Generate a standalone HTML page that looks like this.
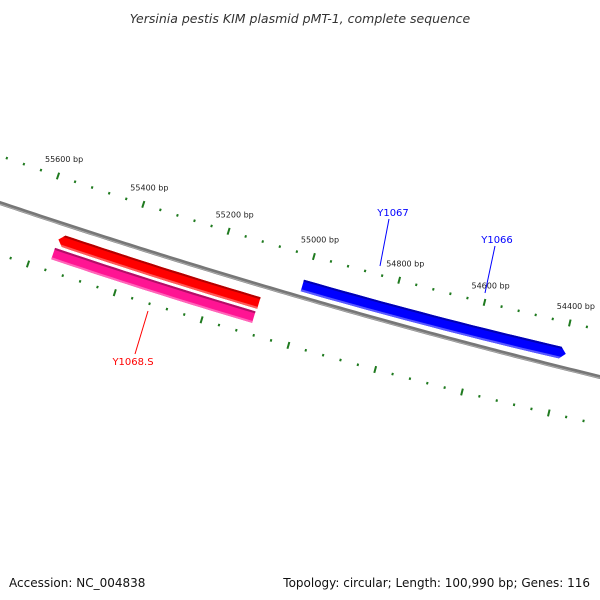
<!DOCTYPE html>
<html><head><meta charset="utf-8"><style>
html,body{margin:0;padding:0;background:#fff}
svg{display:block}
text{font-family:"DejaVu Sans","Liberation Sans",sans-serif}
</style></head><body>
<svg id="c" width="600" height="600" viewBox="0 0 600 600">
<text x="300" y="23" text-anchor="middle" font-size="12.5" font-style="italic" fill="#333">Yersinia pestis KIM plasmid pMT-1, complete sequence</text>
<text x="9" y="587" font-size="12" fill="#111">Accession: NC_004838</text>
<text x="590" y="587" text-anchor="end" font-size="12" fill="#111">Topology: circular; Length: 100,990 bp; Genes: 116</text>
<g id="g"></g>
</svg>
<script>
const upperTickRange = [55720, 54360];
const lowerTickRange = [55640, 54320];
const tickStep = 40;
const majorStep = 200;
const geneNames = ["Y1068", "Y1068.S", "Y1067"];
const geneStart = [55546, 55555, 55007];
const geneEnd = [55089, 55091, 54402];
const geneStrand = [-1, 0, 1];
const geneColors = ["#ff0000", "#ff1493", "#0000ff"];
const geneOffsets = [60, 75, 31];
const labelNames = ["Y1067", "Y1066", "Y1068.S"];
const labelBp = [54810, 54570, 55370];
const labelColors = ["#0000ff", "#0000ff", "#ff0000"];

const NS = "http://www.w3.org/2000/svg";
const g = document.getElementById('g');
function mk(t, a){const e=document.createElementNS(NS,t);for(const k in a)e.setAttribute(k,a[k]);g.appendChild(e);return e;}
// upper ruler curve
function xU(bp){return 58 + (55600-bp)/200*85.3;}
function yU(x){const d=x-312;return 256+0.2876*d-1.08e-4*d*d;}
function sU(x){return 0.2876-2*1.08e-4*(x-312);}
function pt(bp, off){const x=xU(bp),y=yU(x),s=sU(x),n=Math.sqrt(1+s*s);return [x-s/n*off, y+off/n, s];}
// lower ruler
function xL(bp){return 28 + (55600-bp)/200*86.8;}
function yL(x){const d=x-287;return 345+0.2863*d-1.02e-4*d*d;}
function sL(x){return 0.2863-2*1.02e-4*(x-287);}
function yB(x){const d=x-300;return 297+0.2933*d-0.244e-4*d*d*1.0- (d*d*0.0000)*0;}
// backbone through (0,203),(300,297),(600,377)
function yBack(x){const d=x-300; const b=(377-203)/600, c=((377+203)/2-297)/90000; return 297+b*d+c*d*d;}
let d="";
for(let x=-5;x<=605;x+=5){d+=(x<0?"M":"L")+x+","+yBack(x).toFixed(2)+" ";}
let bb=mk('path',{d:d,stroke:'#777',"stroke-width":4,fill:'none'});


let bh=mk('path',{d:d,stroke:'#aaa',"stroke-width":1,fill:'none',transform:'translate(0,1.2)'});



function tick(x,y,s,len,name){const n=Math.sqrt(1+s*s),ux=-s/n,uy=1/n;
 const l=mk('line',{x1:x-ux*len/2,y1:y-uy*len/2,x2:x+ux*len/2,y2:y+uy*len/2,stroke:'#1f7a1f',"stroke-width":2});
 
 }
for(let bp=upperTickRange[0];bp>=upperTickRange[1];bp-=tickStep){
 const x=xU(bp),y=yU(x),maj=bp%majorStep===0;
 tick(x,y,sU(x),maj?7:2.5,maj?'major-tick':'minor-tick');
 if(maj){const t=mk('text',{x:x-13,y:y-14,"font-size":8,fill:'#222'});t.textContent=bp+" bp";
  
  }
}
for(let bp=lowerTickRange[0];bp>=lowerTickRange[1];bp-=tickStep){
 const x=xL(bp),y=yL(x),maj=bp%majorStep===0;
 tick(x,y,sL(x),maj?7:2.5,maj?'inner-major-tick':'inner-minor-tick');
}
function shade(c,f){const v=parseInt(c.slice(1),16);let r=v>>16,gg=(v>>8)&255,b=v&255;
 const m=f>0?(q=>Math.round(q+(255-q)*f)):(q=>Math.round(q*(1+f)));return `rgb(${m(r)},${m(gg)},${m(b)})`;}
for(let i=0;i<geneNames.length;i++){
 const h=6,off=geneOffsets[i],a=geneStart[i],b=geneEnd[i],st=geneStrand[i];
 const top=[],bot=[],N=20;
 for(let k=0;k<=N;k++){const bp=a+(b-a)*k/N;top.push(pt(bp,off-h));bot.push(pt(bp,off+h));}
 let poly=[];
 if(st===-1){const tip=pt(a+8,off);top[0]=pt(a-4,off-h);bot[0]=pt(a-4,off+h);poly.push(tip);}
 top.forEach(p=>poly.push(p));
 if(st===1){const tip=pt(b-9,off);top[N]=pt(b+4,off-h);bot[N]=pt(b+4,off+h);poly=[];top.forEach(p=>poly.push(p));poly.push(tip);}
 for(let k=N;k>=0;k--)poly.push(bot[k]);
 const pg=mk('polygon',{points:poly.map(p=>p[0].toFixed(1)+","+p[1].toFixed(1)).join(" "),fill:geneColors[i]});
 
 
 // shading bands
 const dk=[],lt=[];
 for(let k=0;k<=N;k++){const bp=a+(b-a)*k/N;dk.push(pt(bp,off-h+2));lt.push(pt(bp,off+h-2));}
 const dband=mk('polygon',{points:top.concat(dk.slice().reverse()).map(p=>p[0].toFixed(1)+","+p[1].toFixed(1)).join(" "),fill:shade(geneColors[i],-0.3)});
 
 
 const lband=mk('polygon',{points:lt.concat(bot.slice().reverse()).map(p=>p[0].toFixed(1)+","+p[1].toFixed(1)).join(" "),fill:shade(geneColors[i],0.35)});
 
 
}
// labels
const labelPos=[[393,216],[497,243],[133,365]];
const lineEnds=[[[389,219],[380,266]],[[495,246],[485,293]],[[148,311],[135,354]]];
for(let i=0;i<labelNames.length;i++){
 const le=lineEnds[i];
 const ln=mk('line',{x1:le[0][0],y1:le[0][1],x2:le[1][0],y2:le[1][1],stroke:labelColors[i],"stroke-width":1});
 
 
 const t=mk('text',{x:labelPos[i][0],y:labelPos[i][1],"text-anchor":"middle","font-size":10,fill:labelColors[i]});
 t.textContent=labelNames[i];
 
 
}
</script>
</body></html>
